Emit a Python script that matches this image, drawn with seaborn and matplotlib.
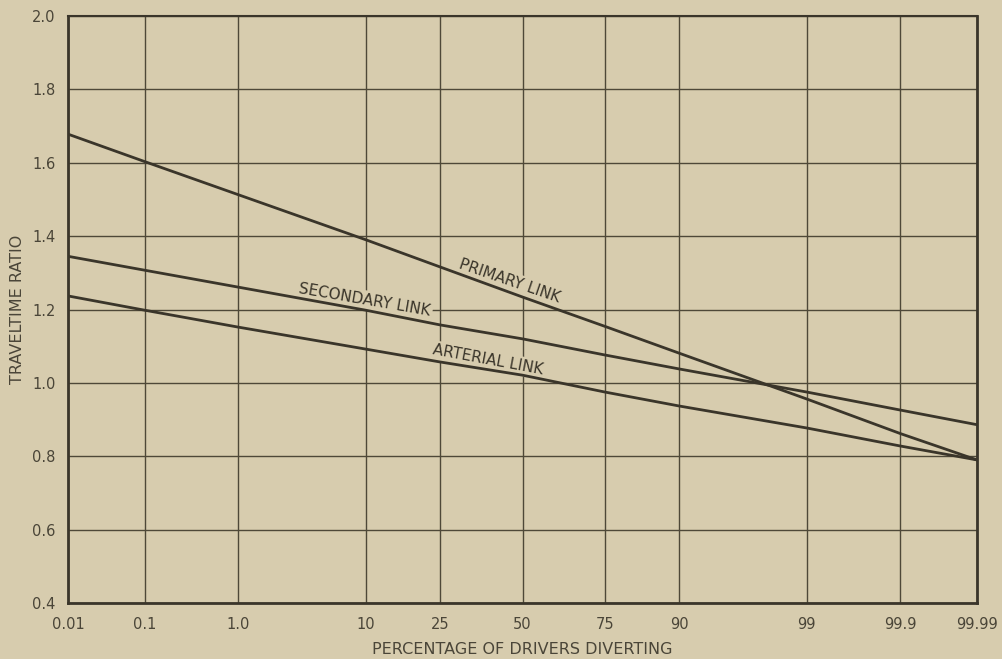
import numpy as np
import pandas as pd
import matplotlib
matplotlib.use("Agg")
import matplotlib.pyplot as plt
import matplotlib.ticker as mticker
import seaborn as sns
from statistics import NormalDist

# Percentage of drivers diverting (normal-probability axis) and traveltime ratios
percent_diverting = [0.01, 0.1, 1.0, 10, 25, 50, 75, 90, 99, 99.9, 99.99]
x_tick_labels = ["0.01", "0.1", "1.0", "10", "25", "50", "75", "90", "99", "99.9", "99.99"]
primary_link = [1.678, 1.603, 1.513, 1.390, 1.316, 1.234, 1.154, 1.081, 0.956, 0.862, 0.790]
secondary_link = [1.345, 1.307, 1.261, 1.198, 1.158, 1.120, 1.076, 1.038, 0.975, 0.926, 0.886]
arterial_link = [1.237, 1.198, 1.152, 1.092, 1.057, 1.021, 0.975, 0.937, 0.877, 0.828, 0.790]
link_names = ["PRIMARY LINK", "SECONDARY LINK", "ARTERIAL LINK"]
y_ticks = [0.4, 0.6, 0.8, 1.0, 1.2, 1.4, 1.6, 1.8, 2.0]
y_tick_labels = ["0.4", "0.6", "0.8", "1.0", "1.2", "1.4", "1.6", "1.8", "2.0"]

df = pd.DataFrame({
    "percent": percent_diverting * 3,
    "ratio": primary_link + secondary_link + arterial_link,
    "link": np.repeat(link_names, len(percent_diverting)),
})

# Normal probability scale for the x axis
_nd = NormalDist()


def to_probit(p):
    p = np.clip(np.asarray(p, dtype=float) / 100.0, 1e-9, 1 - 1e-9)
    if p.size == 0:
        return p
    return np.vectorize(_nd.inv_cdf, otypes=[float])(p)


def from_probit(z):
    z = np.asarray(z, dtype=float)
    if z.size == 0:
        return z
    return np.vectorize(_nd.cdf, otypes=[float])(z) * 100.0


paper = "#d7ccae"
ink = "#3a352a"
grid_ink = "#4e4838"
text_ink = "#4a4538"

sns.set_theme(style="white")
plt.rcParams["font.family"] = ["DejaVu Sans"]

fig = plt.figure(figsize=(10.03, 6.59), dpi=100, facecolor=paper)
ax = fig.add_axes([68 / 1003, 1 - 603 / 659, (977 - 68) / 1003, (603 - 16) / 659])
ax.set_facecolor(paper)

sns.lineplot(data=df, x="percent", y="ratio", hue="link",
             palette=[ink, ink, ink], legend=False, linewidth=2.0,
             ax=ax, zorder=4)

ax.set_xscale("function", functions=(to_probit, from_probit))
ax.set_xlim(0.01, 99.99)
ax.set_ylim(0.4, 2.0)
ax.set_xticks(percent_diverting)
ax.set_xticklabels(x_tick_labels)
ax.set_yticks(y_ticks)
ax.set_yticklabels(y_tick_labels)
ax.xaxis.set_minor_locator(mticker.NullLocator())
ax.yaxis.set_minor_locator(mticker.NullLocator())

ax.grid(True, color=grid_ink, linewidth=1.0, zorder=1)
ax.set_axisbelow(True)
for side, s in ax.spines.items():
    s.set_visible(True)
    s.set_color(ink)
    s.set_linewidth(2.0 if side != "top" else 1.5)

ax.tick_params(axis="both", length=0, colors=text_ink, labelsize=10.5)
ax.tick_params(axis="x", pad=10)
ax.tick_params(axis="y", pad=9)

ax.set_xlabel("PERCENTAGE OF DRIVERS DIVERTING", fontsize=11.5, color=text_ink)
ax.xaxis.label.set_va("center")
ax.xaxis.set_label_coords(0.5, (603 - 649) / 587)
ax.set_ylabel("TRAVELTIME RATIO", fontsize=11.5, color=text_ink)
ax.yaxis.label.set_va("center")
ax.yaxis.set_label_coords((18 - 68) / 909, 0.5)

# In-line labels for each link
label_box = dict(boxstyle="square,pad=0.15", fc=paper, ec="none")
for name, xp, yv, rot in [("PRIMARY LINK", 45.8, 1.277, -19.0),
                          ("SECONDARY LINK", 9.8, 1.226, -9.8),
                          ("ARTERIAL LINK", 39.0, 1.062, -10.5)]:
    ax.text(xp, yv, name, rotation=rot, rotation_mode="anchor",
            ha="center", va="center", fontsize=11, color=ink,
            bbox=label_box, zorder=3)

fig.savefig("out.png", dpi=100, facecolor=paper)
